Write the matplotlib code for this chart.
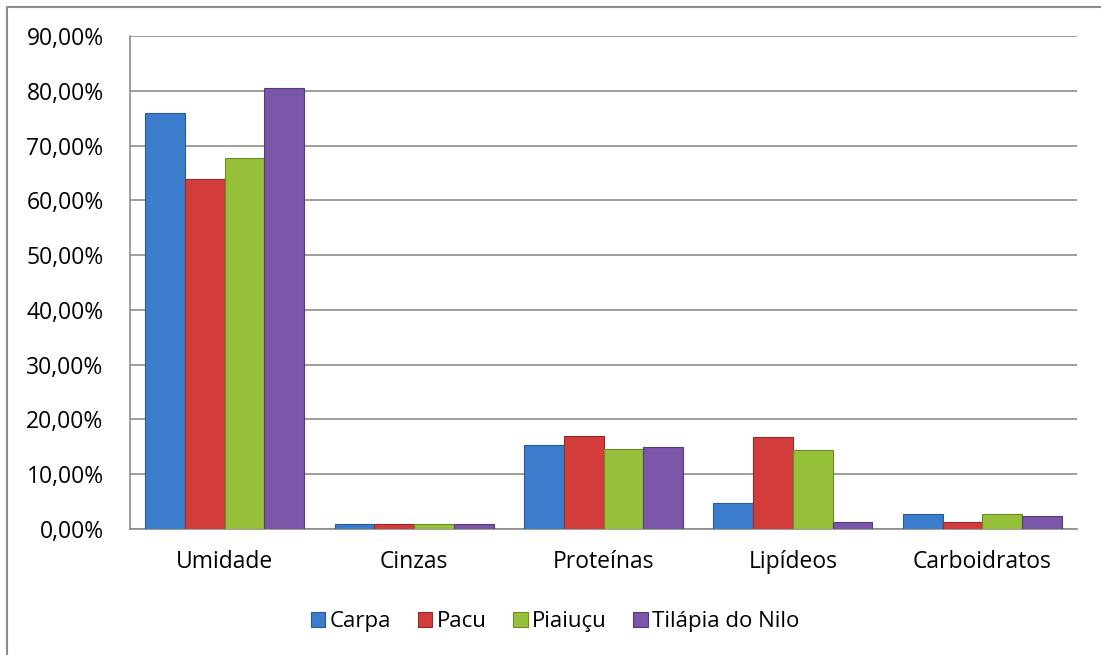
#!/usr/bin/env python3

import matplotlib
matplotlib.use("Agg")
import matplotlib.pyplot as plt
from matplotlib.patches import Rectangle
import numpy as np

categories = ["Umidade", "Cinzas", "Proteínas", "Lipídeos", "Carboidratos"]
species = ["Carpa", "Pacu", "Piaiuçu", "Tilápia do Nilo"]

carpa = [75.9, 0.9, 15.3, 4.7, 2.7]
pacu = [63.9, 0.9, 17.0, 16.8, 1.2]
piaiucu = [67.7, 0.9, 14.6, 14.4, 2.7]
tilapia = [80.5, 0.9, 15.0, 1.2, 2.4]

series = [carpa, pacu, piaiucu, tilapia]
colors = ["#3b7dcc", "#d23c3a", "#97c03a", "#7a57a8"]
edges = ["#2a5a96", "#962a28", "#6b8a26", "#553c78"]

plt.rcParams['font.family'] = ['Open Sans', 'DejaVu Sans']

fig = plt.figure(figsize=(11.01, 6.55), dpi=100)
ax = fig.add_axes([130/1101, 1 - 529/655, 947/1101, 493/655])

# outer chart border (cropped at right and bottom)
fig.patches.append(Rectangle((7/1101, -0.05), 1.1, 1 - 7/655 + 0.05,
                             transform=fig.transFigure, fill=False,
                             edgecolor="#8c8c8c", linewidth=1.5))

x = np.arange(len(categories))
w = 0.21
for i, (vals, name) in enumerate(zip(series, species)):
    ax.bar(x + (i - 1.5) * w, vals, w, color=colors[i], edgecolor=edges[i],
           linewidth=0.8, label=name, zorder=3)

ax.set_xlim(-0.5, len(categories) - 0.5)
ax.set_ylim(0, 90)
ax.set_yticks(np.arange(0, 91, 10))
ax.set_yticklabels([f"{v:.2f}%".replace(".", ",") for v in np.arange(0, 91, 10)])
ax.set_xticks(x)
ax.set_xticklabels(categories)
ax.tick_params(axis="both", length=0, labelsize=16.5)
ax.tick_params(axis="x", pad=15)
ax.tick_params(axis="y", pad=19)
ax.yaxis.grid(True, color="#8c8c8c", linewidth=1.2, zorder=0)
ax.set_axisbelow(True)
for s in ["top", "right"]:
    ax.spines[s].set_visible(False)
for s in ["left", "bottom"]:
    ax.spines[s].set_color("#8c8c8c")
    ax.spines[s].set_linewidth(1.2)

ax.legend(loc="center", bbox_to_anchor=(0.449, -0.188), ncol=4, frameon=False,
          fontsize=16, handlelength=0.65, handleheight=0.65, handletextpad=0.2,
          columnspacing=1.2)

fig.savefig("out.png", dpi=100)
